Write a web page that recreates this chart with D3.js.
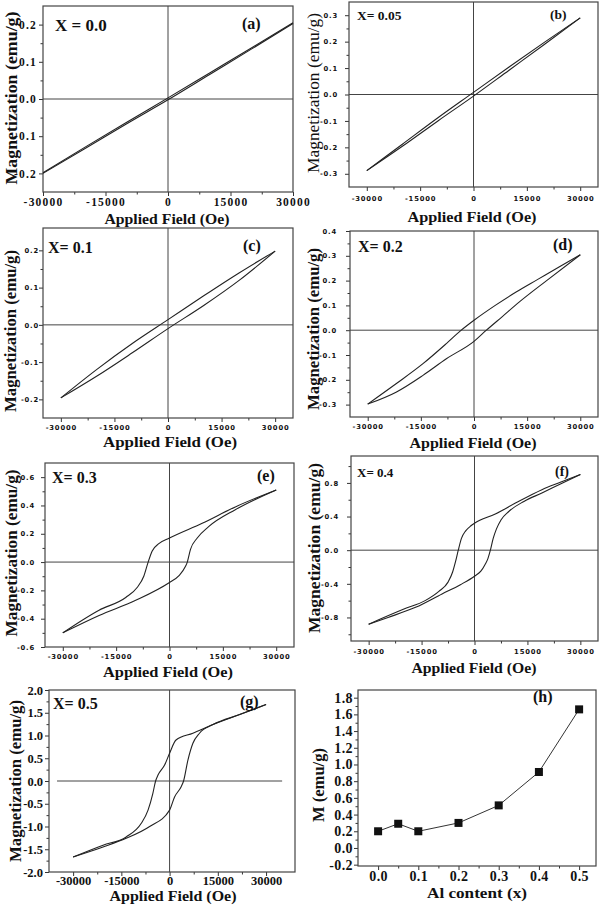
<!DOCTYPE html>
<html><head><meta charset="utf-8">
<script src="https://cdn.jsdelivr.net/npm/d3@7"></script>
<style>body{margin:0;background:#fff}</style>
</head><body>
<svg id="fig" width="600" height="907"></svg>
<script>
// ================= DATA =================
// common field ticks (Oe)
const fieldTicks = [-30000, -15000, 0, 15000, 30000];
const fieldMinorTicks = [-22500, -7500, 7500, 22500];

// (a) x = 0.0
const fieldA = [-30000, -20000, -10000, 0, 10000, 20000, 30000];
const upperA = [-0.198, -0.130, -0.063, 0.003, 0.070, 0.137, 0.205];
const lowerA = [-0.200, -0.134, -0.067, -0.002, 0.066, 0.134, 0.203];
const magTicksA = [-0.2, -0.1, 0.0, 0.1, 0.2];
const magMinorA = [-0.15, -0.05, 0.05, 0.15];

// (b) x = 0.05
const fieldB = [-30000, -20000, -10000, 0, 10000, 20000, 30000];
const upperB = [-0.288, -0.188, -0.088, 0.008, 0.104, 0.198, 0.290];
const lowerB = [-0.288, -0.196, -0.100, -0.006, 0.092, 0.190, 0.290];
const magTicksB = [-0.3, -0.2, -0.1, 0.0, 0.1, 0.2, 0.3];
const magMinorB = [-0.25, -0.15, -0.05, 0.05, 0.15, 0.25];

// (c) x = 0.1
const fieldC = [-30000, -20000, -10000, 0, 10000, 20000, 30000];
const upperC = [-0.196, -0.120, -0.050, 0.014, 0.078, 0.140, 0.198];
const lowerC = [-0.196, -0.138, -0.075, -0.010, 0.052, 0.120, 0.198];
const magTicksC = [-0.2, -0.1, 0.0, 0.1, 0.2];
const magMinorC = [-0.15, -0.05, 0.05, 0.15];

// (d) x = 0.2
const fieldUpperD = [-30000, -22000, -14400, -7800, -3600, 0, 6000, 12000, 18000, 24000, 30000];
const upperD      = [-0.298, -0.216, -0.135, -0.054, 0.0, 0.040, 0.100, 0.155, 0.205, 0.255, 0.304];
const fieldLowerD = [-30000, -22000, -14400, -7800, 0, 3500, 8000, 12900, 20500, 30000];
const lowerD      = [-0.298, -0.250, -0.182, -0.115, -0.045, 0.0, 0.055, 0.115, 0.200, 0.304];
const magTicksD = [-0.3, -0.2, -0.1, 0.0, 0.1, 0.2, 0.3, 0.4];
const magMinorD = [-0.25, -0.15, -0.05, 0.05, 0.15, 0.25, 0.35];

// (e) x = 0.3
const fieldUpperE = [-30000, -19800, -12300, -9100, -7200, -6000, -4900, -3000, 0, 9200, 18500, 30000];
const upperE      = [-0.50, -0.34, -0.25, -0.18, -0.098, 0.0, 0.077, 0.13, 0.17, 0.274, 0.39, 0.51];
const fieldLowerE = [-30000, -19800, -9500, 0, 2600, 4500, 5000, 5900, 7800, 11000, 18500, 30000];
const lowerE      = [-0.50, -0.377, -0.27, -0.144, -0.098, -0.03, 0.0, 0.09, 0.17, 0.25, 0.37, 0.51];
const magTicksE = [-0.6, -0.4, -0.2, 0.0, 0.2, 0.4, 0.6];
const magMinorE = [-0.5, -0.3, -0.1, 0.1, 0.3, 0.5];

// (f) x = 0.4
const fieldUpperF = [-30000, -20000, -14000, -10100, -7500, -6200, -5400, -4600, -3700, -2500, -1000, 0, 5900, 11600, 19100, 24500, 30000];
const upperF      = [-0.88, -0.70, -0.60, -0.49, -0.38, -0.26, -0.14, 0.0, 0.14, 0.23, 0.29, 0.32, 0.43, 0.56, 0.72, 0.81, 0.90];
const fieldLowerF = [-30000, -24500, -16700, -9200, -4000, 0, 1800, 3000, 3800, 4500, 5300, 6200, 7500, 9700, 14000, 19100, 24500, 30000];
const lowerF      = [-0.88, -0.80, -0.68, -0.52, -0.41, -0.31, -0.25, -0.17, -0.10, 0.0, 0.14, 0.25, 0.36, 0.46, 0.58, 0.68, 0.79, 0.90];
const magTicksF = [-0.8, -0.4, 0.0, 0.4, 0.8];
const magMinorF = [-1.0, -0.6, -0.2, 0.2, 0.6, 1.0];

// (g) x = 0.5
const fieldUpperG = [-30000, -20700, -13500, -8800, -6700, -5200, -4350, -3600, -1550, 0, 2000, 7250, 13500, 21800, 30000];
const upperG      = [-1.67, -1.41, -1.23, -0.93, -0.64, -0.27, 0.0, 0.13, 0.35, 0.61, 0.90, 1.05, 1.24, 1.46, 1.68];
const fieldLowerG = [-30000, -20700, -13500, -6200, 0, 1550, 3600, 4350, 5700, 7250, 9300, 13500, 21800, 30000];
const lowerG      = [-1.67, -1.45, -1.26, -1.00, -0.64, -0.35, -0.125, 0.0, 0.46, 0.83, 1.05, 1.24, 1.46, 1.68];
const magTicksG = [-2.0, -1.5, -1.0, -0.5, 0.0, 0.5, 1.0, 1.5, 2.0];
const magMinorG = [-1.75, -1.25, -0.75, -0.25, 0.25, 0.75, 1.25, 1.75];

// (h) saturation magnetization vs Al content
const alContent = [0.0, 0.05, 0.1, 0.2, 0.3, 0.4, 0.5];
const msValues  = [0.20, 0.29, 0.20, 0.30, 0.51, 0.91, 1.66];
const alTicks = [0.0, 0.1, 0.2, 0.3, 0.4, 0.5];
const alMinorTicks = [0.05, 0.15, 0.25, 0.35, 0.45];
const msTicks = [-0.2, 0.0, 0.2, 0.4, 0.6, 0.8, 1.0, 1.2, 1.4, 1.6, 1.8];
const msMinorTicks = [-0.1, 0.1, 0.3, 0.5, 0.7, 0.9, 1.1, 1.3, 1.5, 1.7];

const compositionLabels = ["X = 0.0", "X= 0.05", "X= 0.1", "X= 0.2", "X= 0.3", "X= 0.4", "X= 0.5"];
const panelLetters = ["(a)", "(b)", "(c)", "(d)", "(e)", "(f)", "(g)", "(h)"];
const fieldTitle = "Applied Field (Oe)";
const magTitle = "Magnetization (emu/g)";

// ================= LAYOUT / STYLE =================
const SERIF = '"Liberation Serif","Times New Roman",serif';
const SANS = '"DejaVu Sans",sans-serif';
const serifTickA = {family: SERIF, size: 11.5, ls: 1.2};
const sansTick = {family: SANS, size: 6.8, ls: 0.8};
const serifTickG = {family: SERIF, size: 12.5, ls: 0};

const zip = (xs, ys) => xs.map((v, i) => [v, ys[i]]);

const loops = [
  {box:{l:43,r:293,t:6,b:192}, xDom:[-30000,30000], yDom:[-0.25,0.25],
   yT:magTicksA, yM:magMinorA, font:serifTickA, xPad:2.3, yPad:2,
   branches:[zip(fieldA, upperA), zip(fieldA, lowerA)],
   comp:{t:compositionLabels[0], x:55, y:30.5, s:17}, letter:{x:242, y:28.5, s:16},
   yTitle:{x:11, y:98, len:173, w:"bold"}, xTitle:{x:167, y:224, len:125}},
  {box:{l:349,r:598,t:2,b:187}, xDom:[-35000,35000], yDom:[-0.35,0.35],
   yT:magTicksB, yM:magMinorB, font:sansTick, xPad:5, yPad:7,
   branches:[zip(fieldB, upperB), zip(fieldB, lowerB)],
   comp:{t:compositionLabels[1], x:357, y:19.5, s:13.5}, letter:{x:550, y:19, s:13.5},
   yTitle:{x:313, y:93, len:160, w:"normal"}, xTitle:{x:472, y:222, len:129}},
  {box:{l:43,r:293,t:228,b:418}, xDom:[-35000,35000], yDom:[-0.25,0.26],
   yT:magTicksC, yM:magMinorC, font:sansTick, xPad:3, yPad:0,
   branches:[zip(fieldC, upperC), zip(fieldC, lowerC)],
   comp:{t:compositionLabels[2], x:48, y:252.5, s:16}, letter:{x:243, y:251, s:16},
   yTitle:{x:10, y:331, len:162, w:"bold"}, xTitle:{x:170, y:447, len:134}},
  {box:{l:350,r:598,t:231,b:417}, xDom:[-35000,35000], yDom:[-0.35,0.4],
   yT:magTicksD, yM:magMinorD, font:sansTick, xPad:3, yPad:9,
   branches:[zip(fieldUpperD, upperD), zip(fieldLowerD, lowerD)],
   comp:{t:compositionLabels[3], x:358, y:252, s:16}, letter:{x:553, y:250, s:16},
   yTitle:{x:313, y:329, len:162, w:"bold"}, xTitle:{x:473, y:448, len:127}},
  {box:{l:45,r:294,t:463,b:647}, xDom:[-35000,35000], yDom:[-0.6,0.7],
   yT:magTicksE, yM:magMinorE, font:sansTick, xPad:3, yPad:6,
   branches:[zip(fieldUpperE, upperE), zip(fieldLowerE, lowerE)],
   comp:{t:compositionLabels[4], x:52, y:483, s:16}, letter:{x:257, y:481, s:16},
   yTitle:{x:11, y:553, len:167, w:"bold"}, xTitle:{x:168, y:677, len:130}},
  {box:{l:351,r:598,t:456,b:641}, xDom:[-35000,35000], yDom:[-1.08,1.12],
   yT:magTicksF, yM:magMinorF, font:sansTick, xPad:4, yPad:8,
   branches:[zip(fieldUpperF, upperF), zip(fieldLowerF, lowerF)],
   comp:{t:compositionLabels[5], x:357, y:477, s:13}, letter:{x:555, y:476, s:14},
   yTitle:{x:314, y:548, len:170, w:"bold"}, xTitle:{x:474, y:673, len:125}},
  {box:{l:49,r:295,t:690,b:872}, xDom:[-37500,39000], yDom:[-2,2],
   yT:magTicksG, yM:magMinorG, font:serifTickG, xPad:0, yPad:2, hLine:[-35000,35000],
   branches:[zip(fieldUpperG, upperG), zip(fieldLowerG, lowerG)],
   comp:{t:compositionLabels[6], x:53, y:709, s:16}, letter:{x:240, y:707, s:16},
   yTitle:{x:15, y:781, len:162, w:"bold"}, xTitle:{x:173, y:901, len:127}}
];

const svg = d3.select("#fig");
const fmt1 = d => d3.format(".1f")(d).replace("\u2212", "-");

function styleTicks(sel, font) {
  sel.selectAll("text")
    .attr("font-family", font.family)
    .attr("font-size", font.size)
    .attr("font-weight", "bold")
    .style("letter-spacing", font.ls + "px")
    .attr("fill", "#111");
  sel.selectAll("line").attr("stroke", "#333").attr("stroke-width", 1);
  sel.select(".domain").remove();
}

function drawFrameAndAxes(p, x, y, xT, xM, yT, yM, xFmt, yFmt, font, xPad, yPad) {
  const g = svg.append("g");
  const xa = d3.axisBottom(x).tickValues(xT).tickSize(4).tickSizeOuter(0).tickPadding(xPad).tickFormat(xFmt);
  const xm = d3.axisBottom(x).tickValues(xM).tickSize(2.5).tickSizeOuter(0).tickFormat("");
  const ya = d3.axisLeft(y).tickValues(yT).tickSize(4).tickSizeOuter(0).tickPadding(yPad).tickFormat(yFmt);
  const ym = d3.axisLeft(y).tickValues(yM).tickSize(2.5).tickSizeOuter(0).tickFormat("");
  styleTicks(g.append("g").attr("transform", `translate(0,${p.box.b})`).call(xa), font);
  styleTicks(g.append("g").attr("transform", `translate(0,${p.box.b})`).call(xm), font);
  styleTicks(g.append("g").attr("transform", `translate(${p.box.l},0)`).call(ya), font);
  styleTicks(g.append("g").attr("transform", `translate(${p.box.l},0)`).call(ym), font);
  g.append("rect")
    .attr("x", p.box.l).attr("y", p.box.t)
    .attr("width", p.box.r - p.box.l).attr("height", p.box.b - p.box.t)
    .attr("fill", "none").attr("stroke", "#444").attr("stroke-width", 1.2);
  return g;
}

function titles(p, xText) {
  svg.append("text")
    .attr("transform", `translate(${p.yTitle.x},${p.yTitle.y}) rotate(-90)`)
    .attr("text-anchor", "middle").attr("dominant-baseline", "central")
    .attr("font-family", SERIF).attr("font-size", 17).attr("font-weight", p.yTitle.w)
    .attr("textLength", p.yTitle.len).attr("lengthAdjust", "spacingAndGlyphs")
    .attr("fill", "#111")
    .text(p.yTitle.text || magTitle);
  svg.append("text")
    .attr("x", p.xTitle.x - p.xTitle.len / 2).attr("y", p.xTitle.y)
    .attr("font-family", SERIF).attr("font-size", 15.5).attr("font-weight", "bold")
    .attr("textLength", p.xTitle.len).attr("lengthAdjust", "spacingAndGlyphs")
    .attr("fill", "#111")
    .text(xText);
}

loops.forEach((p, i) => {
  const x = d3.scaleLinear().domain(p.xDom).range([p.box.l, p.box.r]);
  const y = d3.scaleLinear().domain(p.yDom).range([p.box.b, p.box.t]);
  drawFrameAndAxes(p, x, y, fieldTicks, fieldMinorTicks, p.yT, p.yM, d => String(d), fmt1, p.font, p.xPad, p.yPad);

  // zero reference lines
  svg.append("line")
    .attr("x1", x(0)).attr("x2", x(0)).attr("y1", p.box.t).attr("y2", p.box.b)
    .attr("stroke", "#444").attr("stroke-width", 1);
  const hx = p.hLine ? p.hLine.map(x) : [p.box.l, p.box.r];
  svg.append("line")
    .attr("x1", hx[0]).attr("x2", hx[1]).attr("y1", y(0)).attr("y2", y(0))
    .attr("stroke", "#444").attr("stroke-width", 1);

  // hysteresis branches
  const line = d3.line().x(d => x(d[0])).y(d => y(d[1])).curve(d3.curveMonotoneX);
  p.branches.forEach(br => {
    svg.append("path").attr("d", line(br))
      .attr("fill", "none").attr("stroke", "#222").attr("stroke-width", 1.1);
  });

  // annotations
  svg.append("text").attr("x", p.comp.x).attr("y", p.comp.y)
    .attr("font-family", SERIF).attr("font-size", p.comp.s).attr("font-weight", "bold")
    .attr("fill", "#111").text(p.comp.t);
  svg.append("text").attr("x", p.letter.x).attr("y", p.letter.y)
    .attr("font-family", SERIF).attr("font-size", p.letter.s).attr("font-weight", "bold")
    .attr("fill", "#111").text(panelLetters[i]);

  titles(p, fieldTitle);
});

// ---------- panel (h) ----------
{
  const p = {box:{l:358,r:596,t:690,b:866},
             yTitle:{x:318, y:785, len:74, w:"bold", text:"M (emu/g)"},
             xTitle:{x:477, y:898, len:100}};
  const x = d3.scaleLinear().domain([-0.05, 0.542]).range([p.box.l, p.box.r]);
  const y = d3.scaleLinear().domain([-0.216, 1.892]).range([p.box.b, p.box.t]);
  const fontH = {family: SERIF, size: 14, ls: 0.4};
  drawFrameAndAxes(p, x, y, alTicks, alMinorTicks, msTicks, msMinorTicks, fmt1, fmt1, fontH, 1, 1);

  const pts = zip(alContent, msValues);
  const line = d3.line().x(d => x(d[0])).y(d => y(d[1]));
  svg.append("path").attr("d", line(pts))
    .attr("fill", "none").attr("stroke", "#333").attr("stroke-width", 1);
  svg.selectAll("rect.mk").data(pts).enter().append("rect").attr("class", "mk")
    .attr("x", d => x(d[0]) - 4).attr("y", d => y(d[1]) - 4)
    .attr("width", 8).attr("height", 8).attr("fill", "#111");

  svg.append("text").attr("x", 533).attr("y", 702)
    .attr("font-family", SERIF).attr("font-size", 16).attr("font-weight", "bold")
    .attr("fill", "#111").text(panelLetters[7]);
  titles(p, "Al content (x)");
}
</script>
</body></html>
